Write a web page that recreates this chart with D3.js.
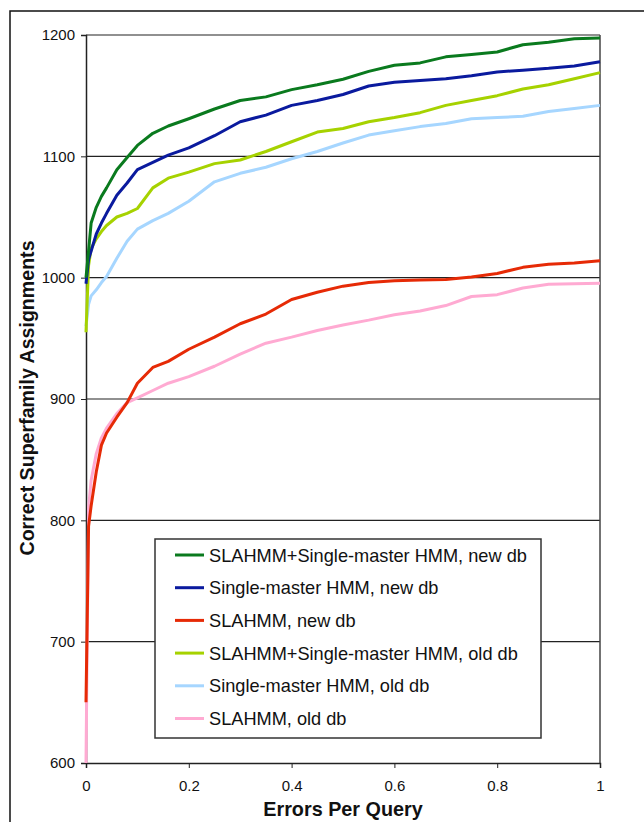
<!DOCTYPE html>
<html>
<head>
<meta charset="utf-8">
<script src="https://cdn.jsdelivr.net/npm/d3@7"></script>
<style>
  html, body { margin: 0; padding: 0; background: #fff; }
  svg { display: block; font-family: "Liberation Sans", Arial, sans-serif; }
</style>
</head>
<body>
<svg id="chart" width="644" height="822"></svg>
<script>
// ---- data ----
const errorsPerQuery = [0, 0.005, 0.01, 0.02, 0.03, 0.04, 0.06, 0.08, 0.1, 0.13, 0.16, 0.2, 0.25, 0.3, 0.35, 0.4, 0.45, 0.5, 0.55, 0.6, 0.65, 0.7, 0.75, 0.8, 0.85, 0.9, 0.95, 1];

const seriesNames = [
  "SLAHMM+Single-master HMM, new db",
  "Single-master HMM, new db",
  "SLAHMM, new db",
  "SLAHMM+Single-master HMM, old db",
  "Single-master HMM, old db",
  "SLAHMM, old db"
];
const seriesColors = ["#0a7a1e", "#0a1a9e", "#e62a06", "#a6d200", "#a6d6ff", "#ffaad2"];

const comboNew  = [1000, 1022, 1045, 1058, 1067, 1074, 1089, 1099, 1109, 1119, 1125, 1131, 1139, 1146, 1149, 1155, 1159, 1163.5, 1170, 1175, 1177, 1182, 1184, 1186, 1192, 1194, 1197, 1197.5];
const singleNew = [995, 1015, 1022, 1036, 1045, 1053, 1068, 1078, 1089, 1095, 1101, 1107, 1117, 1128.5, 1134, 1142, 1146, 1151, 1158, 1161, 1162.5, 1164, 1166.5, 1169.5, 1171, 1172.5, 1174.5, 1178];
const slaNew    = [650, 795, 812, 840, 862, 872, 885, 897, 913, 926, 931, 941, 951, 962, 970, 982, 988, 993, 996, 997.5, 998, 998.5, 1000.5, 1003.5, 1008.5, 1011, 1012, 1014];
const comboOld  = [955, 1010, 1024, 1032, 1038, 1043, 1050, 1053, 1057, 1074, 1082, 1087, 1094, 1097, 1104, 1112, 1120, 1123, 1128.5, 1132, 1136, 1142, 1146, 1150, 1155.5, 1159, 1164, 1169];
const singleOld = [960, 978, 985, 990, 996, 1001, 1016, 1030, 1040, 1047, 1053, 1063, 1079, 1086, 1091, 1098, 1104, 1111, 1117.5, 1121, 1124.5, 1127, 1131, 1132, 1133, 1137, 1139.5, 1142];
const slaOld    = [600, 810, 833, 855, 868, 876, 888, 897, 901, 907, 913, 918.5, 927, 937, 946, 951, 956.5, 961, 965, 969.5, 972.5, 977, 984.5, 986, 991.5, 994.5, 995, 995.5];

const seriesValues = [comboNew, singleNew, slaNew, comboOld, singleOld, slaOld];

const yTickValues = [600, 700, 800, 900, 1000, 1100, 1200];
const xTickValues = [0, 0.2, 0.4, 0.6, 0.8, 1];
const xTickLabels = ["0", "0.2", "0.4", "0.6", "0.8", "1"];
const xTitle = "Errors Per Query";
const yTitle = "Correct Superfamily Assignments";

// ---- layout ----
const svg = d3.select("#chart");
const plotLeft = 86, plotRight = 600, plotTop = 35, plotBottom = 763;

const x = d3.scaleLinear().domain([0, 1]).range([plotLeft, plotRight]);
const y = d3.scaleLinear().domain([600, 1200]).range([plotBottom, plotTop]);

// outer frame
svg.append("rect")
  .attr("x", 10).attr("y", 11).attr("width", 720).attr("height", 900)
  .attr("fill", "none").attr("stroke", "#111").attr("stroke-width", 1.5);

// gridlines
svg.append("g").selectAll("line")
  .data(yTickValues.filter(d => d > 600))
  .join("line")
  .attr("x1", plotLeft).attr("x2", plotRight)
  .attr("y1", d => y(d)).attr("y2", d => y(d))
  .attr("stroke", "#222").attr("stroke-width", 1.2);

// right border of plot area
svg.append("line")
  .attr("x1", plotRight).attr("x2", plotRight).attr("y1", plotTop).attr("y2", plotBottom)
  .attr("stroke", "#444").attr("stroke-width", 1.5);

// axes
const yAxis = d3.axisLeft(y).tickValues(yTickValues).tickSize(5).tickPadding(6).tickFormat(d3.format("d"));
const gy = svg.append("g").attr("transform", `translate(${plotLeft},0)`).call(yAxis);
gy.select(".domain").attr("stroke", "#222").attr("stroke-width", 1.5);
gy.selectAll(".tick line").attr("stroke", "#222");
gy.selectAll("text").attr("font-size", 15).attr("fill", "#111").attr("font-family", "Liberation Sans, Arial, sans-serif");

const xAxis = d3.axisBottom(x).tickValues(xTickValues).tickSize(5).tickPadding(12).tickFormat((d, i) => xTickLabels[i]);
const gx = svg.append("g").attr("transform", `translate(0,${plotBottom})`).call(xAxis);
gx.select(".domain").attr("stroke", "#222").attr("stroke-width", 1.5);
gx.selectAll(".tick line").attr("stroke", "#222");
gx.selectAll("text").attr("font-size", 15).attr("fill", "#111").attr("font-family", "Liberation Sans, Arial, sans-serif");

// lines
const line = d3.line()
  .x((d, i) => x(errorsPerQuery[i]))
  .y(d => y(d));

const order = [5, 4, 3, 2, 1, 0];
svg.append("g").selectAll("path")
  .data(order)
  .join("path")
  .attr("d", k => line(seriesValues[k]))
  .attr("fill", "none")
  .attr("stroke", k => seriesColors[k])
  .attr("stroke-width", 3)
  .attr("stroke-linejoin", "round");

// titles
svg.append("text")
  .attr("x", (plotLeft + plotRight) / 2).attr("y", 816)
  .attr("text-anchor", "middle")
  .attr("font-size", 19.8).attr("font-weight", "bold").attr("fill", "#111")
  .text(xTitle);

svg.append("text")
  .attr("transform", "translate(34,398) rotate(-90)")
  .attr("text-anchor", "middle")
  .attr("font-size", 19.6).attr("font-weight", "bold").attr("fill", "#111")
  .text(yTitle);

// legend
const lg = svg.append("g");
lg.append("rect")
  .attr("x", 155).attr("y", 539).attr("width", 386).attr("height", 199)
  .attr("fill", "#fff").attr("stroke", "#333").attr("stroke-width", 1.5);
const items = lg.selectAll("g.item")
  .data(seriesNames)
  .join("g")
  .attr("class", "item")
  .attr("transform", (d, i) => `translate(0,${555 + i * 32.7})`);
items.append("line")
  .attr("x1", 175).attr("x2", 204).attr("y1", 0).attr("y2", 0)
  .attr("stroke", (d, i) => seriesColors[i]).attr("stroke-width", 3);
items.append("text")
  .attr("x", 209).attr("y", 0).attr("dy", "0.36em")
  .attr("font-size", 18.2).attr("fill", "#111")
  .text(d => d);
</script>
</body>
</html>
